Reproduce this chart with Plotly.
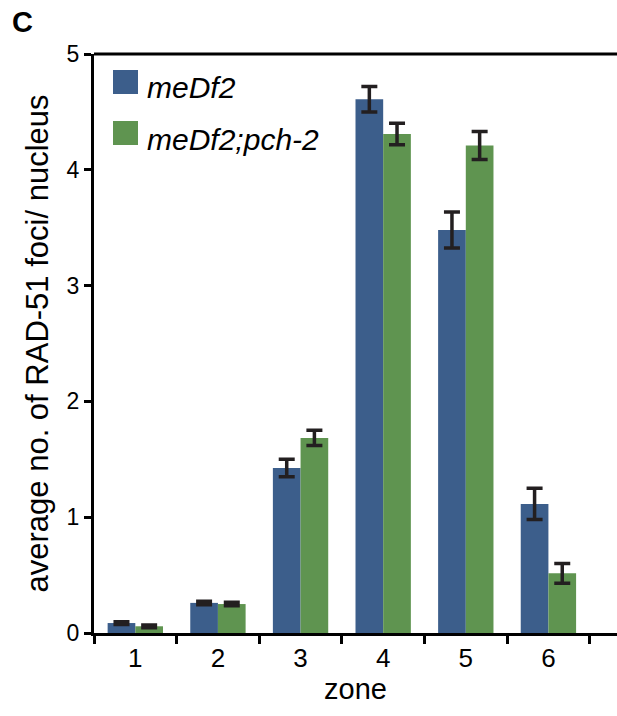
import plotly.graph_objects as go

zones = ["1", "2", "3", "4", "5", "6"]
series_names = ["meDf2", "meDf2;pch-2"]
medf2 = [0.086, 0.26, 1.425, 4.61, 3.48, 1.115]
medf2_err = [0.012, 0.015, 0.075, 0.11, 0.155, 0.135]
pch2 = [0.058, 0.25, 1.685, 4.31, 4.21, 0.515]
pch2_err = [0.012, 0.015, 0.066, 0.093, 0.12, 0.086]
colors = ["#3C5E8B", "#5F9450"]
y_ticks = [0, 1, 2, 3, 4, 5]

FONT = "Liberation Sans, Arial, Helvetica, sans-serif"
ERR = "#231F20"

fig = go.Figure()
for name, vals, errs, col in zip(series_names, [medf2, pch2], [medf2_err, pch2_err], colors):
    fig.add_trace(go.Bar(
        x=zones, y=vals, name=name, marker_color=col, marker_line_width=0,
        error_y=dict(type="data", array=errs, visible=True, color=ERR,
                     thickness=3.5, width=8),
        showlegend=False,
    ))

W, H = 617, 716
L, R, T, B = 94, 0, 54, 83
pw, ph = W - L - R, H - T - B

def px(x):
    return (x - L) / pw

def py(y):
    return (H - B - y) / ph

shapes = [
    dict(type="line", xref="paper", yref="paper", x0=0, x1=1, y0=1, y1=1,
         line=dict(color="black", width=3)),
]
annotations = []
legend_rows = [(70, 94, 88), (121, 145, 139)]
for (y0, y1, yc), name, col in zip(legend_rows, series_names, colors):
    shapes.append(dict(type="rect", xref="paper", yref="paper",
                       x0=px(113), x1=px(138), y0=py(y1), y1=py(y0),
                       fillcolor=col, line_width=0))
    annotations.append(dict(xref="paper", yref="paper", x=px(145), y=py(yc),
                            xanchor="left", yanchor="middle", showarrow=False,
                            text="<i>" + name + "</i>",
                            font=dict(family=FONT, size=30, color="black")))
annotations.append(dict(xref="paper", yref="paper", x=px(10), y=py(22),
                        xanchor="left", yanchor="middle", showarrow=False,
                        text="<b>C</b>", font=dict(family=FONT, size=29, color="black")))

fig.update_layout(
    width=W, height=H,
    margin=dict(l=L, r=R, t=T, b=B, pad=0),
    paper_bgcolor="white", plot_bgcolor="white",
    barmode="group", bargap=0.33, bargroupgap=0,
    font=dict(family=FONT, color="black"),
    shapes=shapes, annotations=annotations,
    xaxis=dict(
        type="category", range=[-0.5, 5.83],
        showline=True, linecolor="black", linewidth=3,
        ticks="outside", tickson="boundaries", ticklen=8, tickwidth=3, tickcolor="black",
        tickfont=dict(size=26), showgrid=False,
        title=dict(text="zone", font=dict(size=29), standoff=6),
    ),
    yaxis=dict(
        range=[0, 5], tickvals=y_ticks,
        showline=True, linecolor="black", linewidth=3,
        ticks="outside", ticklen=7, tickwidth=3, tickcolor="black",
        tickfont=dict(size=23), showgrid=False, zeroline=False,
        title=dict(text="average no. of RAD-51 foci/ nucleus", font=dict(size=31), standoff=9),
    ),
)

fig.write_html("out.html")
